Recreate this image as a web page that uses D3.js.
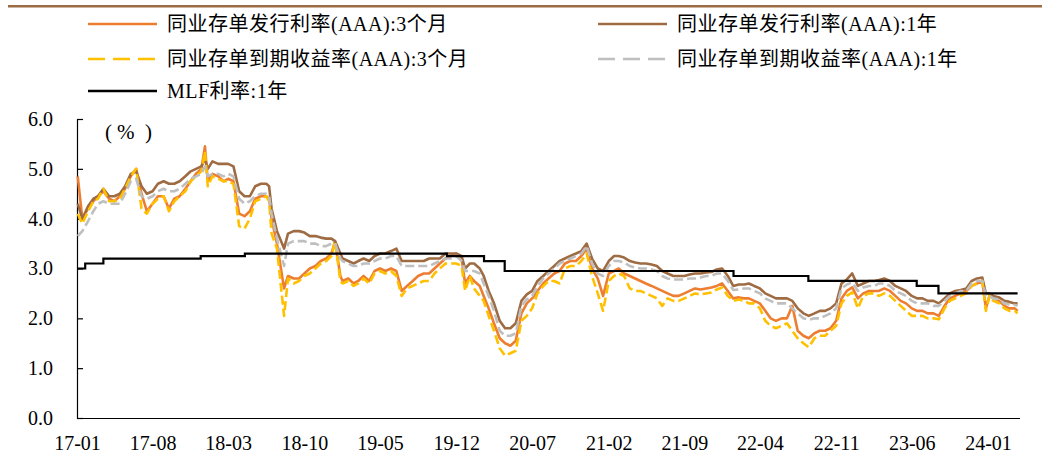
<!DOCTYPE html>
<html>
<head>
<meta charset="utf-8">
<script src="https://cdn.jsdelivr.net/npm/d3@7"></script>
<style>
  body { margin: 0; background: #fff; }
  svg { display: block; }
  text { font-family: "Liberation Serif", "Times New Roman", "Noto Sans CJK SC", serif; fill: #000; }
</style>
</head>
<body>
<svg id="chart" width="1042" height="461"></svg>
<script>
// Observation dates (semi-monthly, plus a few turning points)
const dates = [
  "2017-01-03","2017-01-16","2017-02-01","2017-02-16","2017-03-01","2017-03-16","2017-04-01","2017-04-16",
  "2017-05-01","2017-05-16","2017-06-01","2017-06-16","2017-07-01","2017-07-16","2017-08-01","2017-08-16",
  "2017-09-01","2017-09-16","2017-10-01","2017-10-16","2017-11-01","2017-11-16","2017-12-01","2017-12-16","2017-12-26",
  "2018-01-03","2018-01-16","2018-02-01","2018-02-16","2018-03-01","2018-03-16","2018-04-01","2018-04-16",
  "2018-05-01","2018-05-16","2018-06-01","2018-06-16","2018-06-24","2018-07-01","2018-07-16","2018-08-05","2018-08-16",
  "2018-09-01","2018-09-16","2018-10-01","2018-10-16","2018-11-01","2018-11-16","2018-12-01","2018-12-16","2018-12-26",
  "2019-01-10","2019-01-16","2019-02-01","2019-02-16","2019-03-01","2019-03-16","2019-04-01","2019-04-16",
  "2019-05-01","2019-05-16","2019-06-01","2019-06-16","2019-07-01","2019-07-16","2019-08-01","2019-08-16",
  "2019-09-01","2019-09-16","2019-10-01","2019-10-16","2019-11-01","2019-11-16","2019-12-01","2019-12-16","2019-12-26",
  "2020-01-08","2020-01-20","2020-02-05","2020-02-16","2020-03-01","2020-03-16","2020-04-01","2020-04-16",
  "2020-05-01","2020-05-16","2020-06-01","2020-06-16","2020-07-01","2020-07-16","2020-08-01","2020-08-16",
  "2020-09-01","2020-09-16","2020-10-01","2020-10-16","2020-11-01","2020-11-16","2020-12-01","2020-12-16",
  "2021-01-01","2021-01-16","2021-02-01","2021-02-16","2021-03-01","2021-03-16","2021-04-01","2021-04-16",
  "2021-05-01","2021-05-16","2021-06-01","2021-06-16","2021-07-01","2021-07-16","2021-08-01","2021-08-16",
  "2021-09-01","2021-09-16","2021-10-01","2021-10-16","2021-11-01","2021-11-16","2021-12-01","2021-12-16",
  "2022-01-01","2022-01-16","2022-02-01","2022-02-16","2022-03-01","2022-03-16","2022-04-01","2022-04-16",
  "2022-05-01","2022-05-16","2022-06-01","2022-06-16","2022-07-01","2022-07-16","2022-08-01","2022-08-16",
  "2022-09-01","2022-09-16","2022-10-01","2022-10-16","2022-11-01","2022-11-16","2022-12-01","2022-12-16",
  "2023-01-01","2023-01-16","2023-02-01","2023-02-16","2023-03-01","2023-03-16","2023-04-01","2023-04-16",
  "2023-05-01","2023-05-16","2023-06-01","2023-06-16","2023-07-01","2023-07-16","2023-08-01","2023-08-16",
  "2023-09-01","2023-09-16","2023-10-01","2023-10-16","2023-11-01","2023-11-16","2023-12-01","2023-12-16","2023-12-26",
  "2024-01-05","2024-01-16","2024-02-01","2024-02-16","2024-03-01","2024-03-16","2024-03-24"
];

// 同业存单发行利率(AAA):3个月
const issue3m = [
  4.85,4.00,4.20,4.35,4.45,4.55,4.40,4.35, 4.45,4.60,4.85,5.00,4.50,4.15,4.30,4.45,
  4.45,4.20,4.40,4.45,4.60,4.75,4.90,5.00,5.45,
  4.75,4.90,4.85,4.75,4.80,4.75,4.10,4.05, 4.15,4.40,4.45,4.45,4.40,4.00,3.50,2.60,2.85,
  2.80,2.80,2.90,3.00,3.05,3.15,3.20,3.30,3.55,
  2.85,2.75,2.80,2.70,2.75,2.85,2.75,2.95, 3.00,2.95,3.00,2.95,2.55,2.65,2.75,2.85,
  2.90,2.90,3.00,3.10,3.20,3.25,3.30,3.20,2.70,
  2.85,2.75,2.65,2.45,2.20,1.90,1.60,1.50, 1.45,1.55,2.10,2.30,2.40,2.55,2.70,2.80,
  2.90,2.95,3.10,3.15,3.15,3.25,3.40,3.00,
  2.80,2.45,2.90,2.95,3.00,2.90,2.85,2.80, 2.75,2.70,2.65,2.60,2.55,2.50,2.45,2.45,
  2.50,2.55,2.60,2.58,2.60,2.62,2.65,2.70,
  2.55,2.40,2.42,2.40,2.40,2.35,2.30,2.15, 2.00,1.95,2.00,2.00,2.25,1.75,1.65,1.60,
  1.70,1.75,1.75,1.80,1.95,2.40,2.55,2.62,
  2.40,2.50,2.55,2.55,2.55,2.60,2.55,2.45, 2.35,2.30,2.20,2.15,2.15,2.10,2.10,2.05,
  2.25,2.40,2.45,2.50,2.55,2.65,2.70,2.75,2.20,
  2.45,2.40,2.35,2.25,2.20,2.20,2.15
];

// 同业存单发行利率(AAA):1年
const issue1y = [
  4.30,4.00,4.25,4.40,4.45,4.60,4.45,4.45, 4.50,4.65,4.90,4.95,4.65,4.50,4.55,4.70,
  4.75,4.70,4.70,4.75,4.85,4.95,5.00,5.05,5.20,
  5.00,5.15,5.10,5.10,5.10,5.05,4.55,4.45, 4.45,4.65,4.70,4.70,4.65,4.20,3.75,3.40,3.70,
  3.75,3.75,3.72,3.65,3.65,3.62,3.60,3.60,3.55,
  3.30,3.20,3.15,3.10,3.15,3.20,3.15,3.25, 3.30,3.30,3.35,3.40,3.15,3.15,3.15,3.15,
  3.15,3.20,3.20,3.20,3.30,3.30,3.30,3.25,3.00,
  3.10,3.10,3.00,2.85,2.55,2.30,1.95,1.80, 1.80,1.90,2.35,2.48,2.55,2.75,2.85,2.95,
  3.05,3.15,3.20,3.25,3.30,3.35,3.50,3.20,
  3.00,2.95,3.15,3.25,3.25,3.22,3.15,3.12, 3.10,3.10,3.08,3.05,2.95,2.90,2.85,2.85,
  2.85,2.88,2.90,2.90,2.92,2.93,2.98,3.00,
  2.85,2.65,2.68,2.68,2.70,2.65,2.60,2.50, 2.45,2.40,2.40,2.40,2.35,2.20,2.10,2.05,
  2.10,2.15,2.15,2.20,2.30,2.70,2.78,2.90,
  2.65,2.70,2.75,2.75,2.77,2.80,2.75,2.65, 2.60,2.55,2.45,2.40,2.40,2.35,2.35,2.30,
  2.40,2.50,2.55,2.57,2.60,2.75,2.80,2.82,2.50,
  2.50,2.45,2.42,2.35,2.33,2.30,2.30
];

// 同业存单到期收益率(AAA):3个月
const ytm3m = [
  4.10,3.90,4.15,4.35,4.40,4.60,4.35,4.35, 4.40,4.60,4.85,5.00,4.20,4.10,4.30,4.40,
  4.45,4.15,4.35,4.45,4.55,4.75,4.85,4.95,5.35,
  4.65,4.85,4.80,4.75,4.75,4.70,3.85,3.80, 4.00,4.35,4.40,4.45,4.35,3.70,3.40,2.05,2.80,
  2.70,2.75,2.85,2.90,3.00,3.10,3.15,3.25,3.55,
  2.75,2.70,2.75,2.65,2.70,2.80,2.70,2.90, 2.95,2.90,2.95,2.85,2.45,2.60,2.65,2.70,
  2.75,2.75,2.90,3.00,3.10,3.10,3.10,3.05,2.55,
  2.85,2.60,2.45,2.35,2.05,1.75,1.40,1.25, 1.30,1.35,1.95,2.05,2.20,2.50,2.65,2.75,
  2.75,2.70,3.00,3.05,3.05,3.15,3.30,2.85,
  2.50,2.15,2.75,2.85,2.90,2.85,2.60,2.55, 2.55,2.50,2.45,2.40,2.25,2.40,2.35,2.35,
  2.40,2.45,2.50,2.48,2.50,2.52,2.58,2.62,
  2.45,2.35,2.38,2.35,2.30,2.30,2.20,1.95, 1.85,1.80,1.85,1.90,1.75,1.60,1.50,1.42,
  1.60,1.65,1.65,1.75,1.85,2.30,2.45,2.52,
  2.20,2.45,2.50,2.50,2.45,2.50,2.45,2.35, 2.25,2.15,2.05,2.05,2.05,2.00,2.00,1.98,
  2.20,2.35,2.40,2.45,2.50,2.65,2.70,2.75,2.15,
  2.45,2.35,2.30,2.20,2.15,2.15,2.10
];

// 同业存单到期收益率(AAA):1年
const ytm1y = [
  3.65,3.75,3.95,4.15,4.30,4.35,4.30,4.30, 4.30,4.50,4.75,4.80,4.45,4.40,4.45,4.55,
  4.60,4.55,4.55,4.60,4.70,4.80,4.85,4.90,5.05,
  4.85,4.90,4.90,4.85,4.90,4.85,4.40,4.30, 4.35,4.45,4.50,4.50,4.45,4.10,3.60,3.05,3.50,
  3.55,3.55,3.55,3.50,3.50,3.45,3.45,3.50,3.50,
  3.20,3.15,3.10,3.05,3.05,3.10,3.10,3.15, 3.20,3.20,3.25,3.25,3.05,3.05,3.05,3.05,
  3.05,3.05,3.10,3.15,3.20,3.20,3.25,3.15,2.95,
  2.95,2.95,2.90,2.70,2.45,2.15,1.75,1.65, 1.65,1.70,2.25,2.38,2.45,2.65,2.80,2.90,
  3.00,3.10,3.15,3.20,3.25,3.30,3.45,3.10,
  2.90,2.85,3.05,3.15,3.15,3.12,3.05,3.02, 3.00,3.00,2.98,2.95,2.85,2.80,2.78,2.78,
  2.78,2.80,2.80,2.82,2.85,2.85,2.90,2.90,
  2.75,2.57,2.58,2.60,2.60,2.55,2.50,2.40, 2.35,2.30,2.30,2.30,2.20,2.10,2.00,1.97,
  2.00,2.00,2.05,2.10,2.20,2.60,2.68,2.72,
  2.55,2.62,2.65,2.65,2.70,2.70,2.65,2.55, 2.50,2.45,2.35,2.30,2.30,2.30,2.25,2.25,
  2.35,2.45,2.50,2.55,2.55,2.70,2.75,2.75,2.45,
  2.45,2.40,2.38,2.30,2.28,2.27,2.25
];

// MLF利率:1年 (rate effective from each date)
const mlfDates = ["2017-01-03","2017-01-24","2017-03-16","2017-12-14","2018-04-17","2019-11-05",
                  "2020-02-17","2020-04-15","2022-01-17","2022-08-15","2023-06-15","2023-08-15","2024-03-24"];
const mlfRates = [3.00, 3.10, 3.20, 3.25, 3.30, 3.25, 3.15, 2.95, 2.85, 2.75, 2.65, 2.50, 2.50];

const xTickLabels = ["17-01","17-08","18-03","18-10","19-05","19-12","20-07","21-02","21-09","22-04","22-11","23-06","24-01"];
const yTicks = [0, 1, 2, 3, 4, 5, 6];

const seriesNames = ["同业存单发行利率(AAA):3个月", "同业存单发行利率(AAA):1年",
                     "同业存单到期收益率(AAA):3个月", "同业存单到期收益率(AAA):1年", "MLF利率:1年"];
const seriesColors = ["#ED7D31", "#9E6B42", "#FFC000", "#BFBFBF", "#000000"];

const parseDay = d3.timeParse("%Y-%m-%d");
const parseTick = d3.timeParse("%y-%m");

const svg = d3.select("#chart");

// decorative rule across the top
svg.append("rect").attr("x", 8).attr("y", 5).attr("width", 1034).attr("height", 2.5).attr("fill", "#9B6B43");

const x = d3.scaleTime()
  .domain([parseTick("17-01"), parseTick("24-01")])
  .range([77, 988]);
const y = d3.scaleLinear().domain([0, 6]).range([418, 119]);

// y axis: inward ticks, labels on the left
const yAxis = svg.append("g")
  .attr("transform", "translate(77,0)")
  .call(d3.axisLeft(y).tickValues(yTicks).tickFormat(d3.format(".1f"))
    .tickSizeInner(-6).tickSizeOuter(0).tickPadding(24));
yAxis.selectAll("text").style("font-size", "20px");
yAxis.selectAll("line,path").attr("stroke", "#000").attr("stroke-width", 1.2);

// x axis: plain baseline, no tick marks
const xAxis = svg.append("g")
  .attr("transform", "translate(0,418)")
  .call(d3.axisBottom(x).tickValues(xTickLabels.map(parseTick))
    .tickFormat(d3.timeFormat("%y-%m")).tickSize(0).tickPadding(18));
xAxis.select(".domain").remove();
xAxis.selectAll("text").style("font-size", "20px");
svg.append("line").attr("x1", 77).attr("x2", 1020).attr("y1", 418.5).attr("y2", 418.5)
  .attr("stroke", "#000").attr("stroke-width", 1.2);

// unit label, drawn as spaced glyphs
[["(", 105], ["%", 117], [")", 145]].forEach(([ch, ux]) => {
  svg.append("text").attr("x", ux).attr("y", 139).style("font-size", "21px").text(ch);
});

// data series
const ts = dates.map(parseDay);
const line = d3.line().x(d => x(d[0])).y(d => y(d[1]));
const seriesData = [issue3m, issue1y, ytm3m, ytm1y];
const seriesDash = [null, null, "9,4", "9,4"];

seriesData.forEach((vals, i) => {
  svg.append("path")
    .datum(ts.map((t, k) => [t, vals[k]]))
    .attr("fill", "none")
    .attr("stroke", seriesColors[i])
    .attr("stroke-width", 2.6)
    .attr("stroke-linejoin", "round")
    .attr("stroke-dasharray", seriesDash[i])
    .attr("d", line);
});

const mlfLine = d3.line().curve(d3.curveStepAfter).x(d => x(d[0])).y(d => y(d[1]));
svg.append("path")
  .datum(mlfDates.map((d, k) => [parseDay(d), mlfRates[k]]))
  .attr("fill", "none").attr("stroke", "#000").attr("stroke-width", 2.2)
  .attr("d", mlfLine);

// legend
const legendPos = [[88, 24], [598, 24], [88, 59], [598, 59], [88, 91]];
const legendDash = [null, null, "17,8", "17,8", null];
seriesNames.forEach((name, i) => {
  const [lx, ly] = legendPos[i];
  svg.append("line").attr("x1", lx).attr("x2", lx + 69).attr("y1", ly).attr("y2", ly)
    .attr("stroke", seriesColors[i]).attr("stroke-width", 2.6)
    .attr("stroke-dasharray", legendDash[i]);
  svg.append("text").attr("x", lx + 79).attr("y", ly).attr("dy", "0.35em")
    .style("font-size", "20px").style("letter-spacing", "0.5px").text(name);
});
</script>
</body>
</html>
